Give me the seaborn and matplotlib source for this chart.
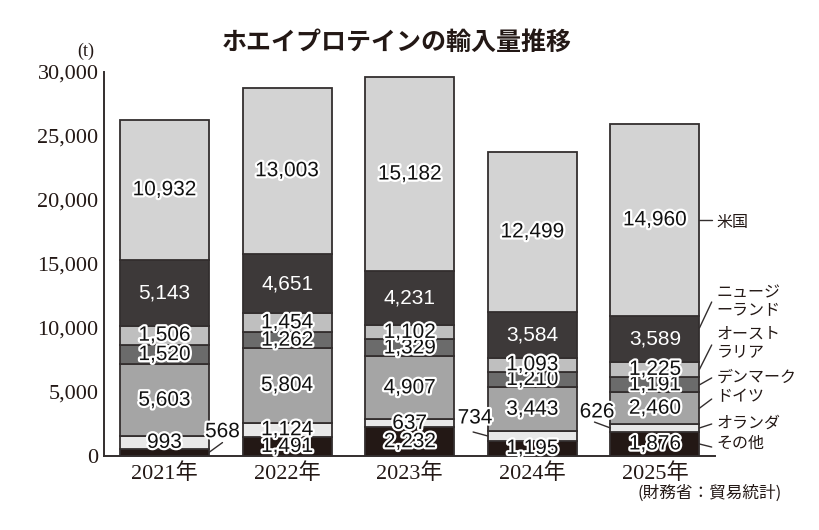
import matplotlib
matplotlib.use("Agg")
import matplotlib.pyplot as plt
import matplotlib.patheffects as pe
import numpy as np
import pandas as pd
import seaborn as sns

# ---------------- data ----------------
years = ["2021年", "2022年", "2023年", "2024年", "2025年"]
countries = ["その他", "オランダ", "ドイツ", "デンマーク", "オーストラリア", "ニュージーランド", "米国"]
other = [568, 1491, 2232, 1195, 1876]
netherlands = [993, 1124, 637, 734, 626]
germany = [5603, 5804, 4907, 3443, 2460]
denmark = [1520, 1262, 1329, 1210, 1191]
australia = [1506, 1454, 1102, 1093, 1225]
new_zealand = [5143, 4651, 4231, 3584, 3589]
usa = [10932, 13003, 15182, 12499, 14960]
yticks = [0, 5000, 10000, 15000, 20000, 25000, 30000]

layers = [other, netherlands, germany, denmark, australia, new_zealand, usa]
colors = ["#231815", "#e8e8e8", "#a5a5a5", "#6b6b6b", "#bfbfbf", "#3d3939", "#d3d3d3"]
right_labels = ["その他", "オランダ", "ドイツ", "デンマーク", "オースト\nラリア", "ニュージ\nーランド", "米国"]

# ---------------- figure ----------------
sns.set_style("white")
plt.rcParams["font.family"] = ["Noto Sans CJK JP", "DejaVu Sans"]

fig = plt.figure(figsize=(8.2, 5.3), dpi=100)
ax = fig.add_axes([104 / 820, 74 / 530, (715 - 104) / 820, (456 - 72) / 530])

W = 0.726
EDGE = "#332e2e"
bottom = np.zeros(len(years))
mids = []
for vals, col in zip(layers, colors):
    df = pd.DataFrame({"year": years, "v": vals})
    sns.barplot(data=df, x="year", y="v", color=col, saturation=1, width=W,
                bottom=bottom.copy(), edgecolor=EDGE, linewidth=1.3, ax=ax, errorbar=None)
    mids.append(bottom + np.array(vals) / 2)
    bottom = bottom + np.array(vals)

ax.set_xlim(-0.4935, 4.49)
ax.set_ylim(0, 30000)
ax.set_xlabel("")
ax.set_ylabel("")
ax.set_yticks(yticks)
ax.set_yticklabels([f"{t:,}" for t in yticks], family="Liberation Serif", fontsize=16, color="#231815")
ax.set_xticks(range(len(years)))
ax.set_xticklabels(years, family=["Liberation Serif", "Noto Sans CJK JP"], fontsize=16, color="#231815")
ax.tick_params(axis="y", direction="in", length=9, width=1.3, color=EDGE, pad=4)
ax.tick_params(axis="x", length=0, pad=5)
for s in ["top", "right"]:
    ax.spines[s].set_visible(False)
for s in ["left", "bottom"]:
    ax.spines[s].set_color(EDGE)
    ax.spines[s].set_linewidth(1.4)

FS = 15
stroke = [pe.withStroke(linewidth=3.2, foreground="white")]
outside = {(0, 0), (1, 3), (1, 4)}
for li, vals in enumerate(layers):
    for xi, v in enumerate(vals):
        if (li, xi) in outside:
            continue
        if li == 5:
            ax.text(xi, mids[li][xi], f"{v:,}", ha="center", va="center", color="white",
                    fontsize=FS, family="Liberation Sans")
        else:
            ax.text(xi, mids[li][xi], f"{v:,}", ha="center", va="center", color="#111111",
                    fontsize=FS, family="Liberation Sans", path_effects=stroke)

lk = dict(color=EDGE, lw=1.0, clip_on=False)
# outside labels with leader lines
# 2021 その他
ax.plot([W / 2, W / 2 + 0.11], [mids[0][0], 1050], **lk)
ax.text(W / 2 + 0.11, 1900, f"{other[0]:,}", ha="center", va="center", fontsize=FS,
        family="Liberation Sans", color="#111111", path_effects=stroke)
# 2024 オランダ
ax.plot([3 - W / 2, 3 - W / 2 - 0.12], [mids[1][3], 1875], **lk)
ax.text(2.533, 2970, f"{netherlands[3]:,}", ha="center", va="center", fontsize=FS,
        family="Liberation Sans", color="#111111", path_effects=stroke)
# 2025 オランダ
ax.plot([4 - W / 2, 4 - W / 2 - 0.13], [mids[1][4], 2650], **lk)
ax.text(3.528, 3440, f"{netherlands[4]:,}", ha="center", va="center", fontsize=FS,
        family="Liberation Sans", color="#111111", path_effects=stroke)

# right side country labels
xe = 4 + W / 2
text_y = [1016, 2578, 4609, 6172, 8830, 12070, 18281]
line_end = [700, 2500, 4450, 6100, 8672, 12031, mids[6][4]]
tx = xe + 0.14
for li, lab in enumerate(right_labels):
    ax.plot([xe, xe + 0.1], [mids[li][4] if li != 5 else 10000, line_end[li]], **lk)
    ax.text(tx, text_y[li], lab, ha="left", va="center", fontsize=11.5,
            color="#231815", linespacing=1.05, clip_on=False)

# title, unit, source
fig.text(397 / 820, 1 - 43 / 530, "ホエイプロテインの輸入量推移", ha="center", va="center",
         fontsize=18, fontweight="bold", color="#231815")
fig.text(86 / 820, 1 - 51 / 530, "(t)", ha="center", va="center", fontsize=13,
         family="Liberation Serif", color="#231815")
fig.text(782 / 820, 1 - 493 / 530, "(財務省：貿易統計)", ha="right", va="center",
         fontsize=12, color="#231815")

fig.savefig("out.png", dpi=100)
